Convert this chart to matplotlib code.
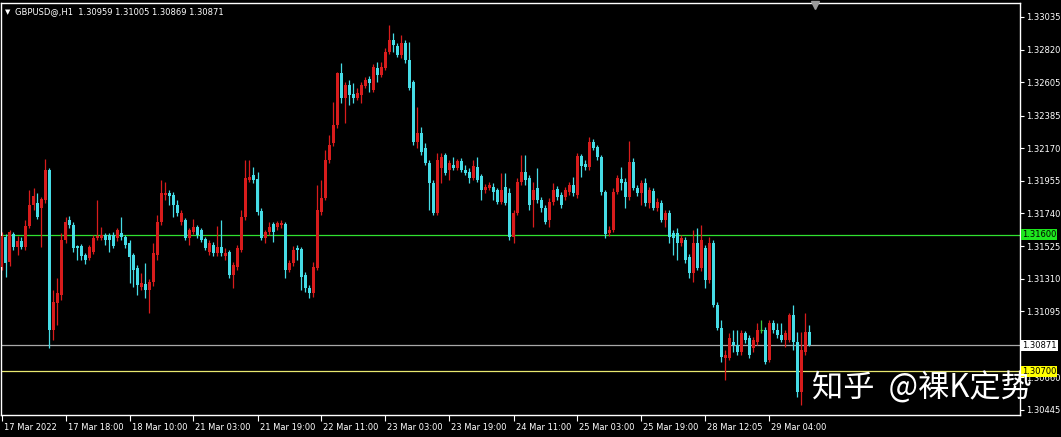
"""GBPUSD H1 candlestick chart, MT4 dark style."""

import matplotlib
matplotlib.use("Agg")
import matplotlib.pyplot as plt
import matplotlib.transforms as mtransforms
import numpy as np

# Hourly bars, 17 Mar 2022 -> 29 Mar 2022
OPENS = [
    1.31388, 1.31585, 1.31420, 1.31605, 1.31519, 1.31559, 1.31519, 1.31658, 1.31796, 1.31809,
    1.31776, 1.31829, 1.32027, 1.30972, 1.31150, 1.31203, 1.31565, 1.31697, 1.31664, 1.31526,
    1.31526, 1.31467, 1.31447, 1.31486, 1.31579, 1.31579, 1.31598, 1.31598, 1.31598, 1.31579,
    1.31612, 1.31585, 1.31546, 1.31467, 1.31381, 1.31256, 1.31275, 1.31236, 1.31289, 1.31467,
    1.31684, 1.31862, 1.31875, 1.31862, 1.31796, 1.31684, 1.31697, 1.31579, 1.31618, 1.31651,
    1.31631, 1.31572, 1.31486, 1.31532, 1.31480, 1.31519, 1.31460, 1.31486, 1.31335, 1.31388,
    1.31500, 1.31717, 1.31961, 1.31994, 1.31967, 1.31757, 1.31579, 1.31618, 1.31671, 1.31651,
    1.31664, 1.31671, 1.31368, 1.31414, 1.31513, 1.31506, 1.31335, 1.31249, 1.31216, 1.31381,
    1.31750, 1.31842, 1.32093, 1.32205, 1.32323, 1.32666, 1.32501, 1.32587, 1.32528, 1.32501,
    1.32521, 1.32580, 1.32626, 1.32554, 1.32699, 1.32653, 1.32699, 1.32804, 1.32883, 1.32844,
    1.32785, 1.32864, 1.32752, 1.32607, 1.32211, 1.32270, 1.32172, 1.32073, 1.31941, 1.31743,
    1.32040, 1.32126, 1.32027, 1.32060, 1.32040, 1.32086, 1.32027, 1.32014, 1.31974, 1.32046,
    1.31987, 1.31895, 1.31908, 1.31915, 1.31895, 1.31816, 1.31915, 1.31875, 1.31585, 1.31743,
    1.31948, 1.32014, 1.31974, 1.31829, 1.31908, 1.31829, 1.31776, 1.31697, 1.31816, 1.31902,
    1.31862, 1.31849, 1.31882, 1.31928, 1.31862, 1.32119, 1.32066, 1.32046, 1.32211, 1.32178,
    1.32112, 1.31882, 1.31612, 1.31631, 1.31882, 1.31967, 1.31948, 1.31849, 1.32079, 1.31908,
    1.31875, 1.31941, 1.31809, 1.31888, 1.31776, 1.31809, 1.31697, 1.31743, 1.31612, 1.31612,
    1.31546, 1.31565, 1.31453, 1.31348, 1.31546, 1.31381, 1.31513, 1.31302, 1.31546, 1.31137,
    1.30986, 1.30788, 1.30788, 1.30893, 1.30873, 1.30827, 1.30953, 1.30920, 1.30854, 1.30893,
    1.30972, 1.30972, 1.30775, 1.31018, 1.30972, 1.30939, 1.30906, 1.30906, 1.31071, 1.30893,
    1.30564, 1.30827, 1.30959,
]
HIGHS = [
    1.31618, 1.31605, 1.31631, 1.31618, 1.31592, 1.31585, 1.31697, 1.31895, 1.31908, 1.31875,
    1.31849, 1.32099, 1.32040, 1.31236, 1.31315, 1.31612, 1.31717, 1.31724, 1.31684, 1.31532,
    1.31539, 1.31480, 1.31532, 1.31598, 1.31829, 1.31651, 1.31612, 1.31612, 1.31618, 1.31645,
    1.31717, 1.31598, 1.31565, 1.31480, 1.31401, 1.31348, 1.31414, 1.31308, 1.31546, 1.31730,
    1.31961, 1.31948, 1.31895, 1.31882, 1.31829, 1.31763, 1.31710, 1.31645, 1.31704, 1.31664,
    1.31645, 1.31585, 1.31565, 1.31552, 1.31658, 1.31697, 1.31513, 1.31500, 1.31420, 1.31532,
    1.31763, 1.32093, 1.32093, 1.32046, 1.32014, 1.31776, 1.31631, 1.31684, 1.31684, 1.31691,
    1.31697, 1.31684, 1.31434, 1.31526, 1.31532, 1.31519, 1.31355, 1.31269, 1.31420, 1.31928,
    1.31961, 1.32158, 1.32257, 1.32475, 1.32672, 1.32732, 1.32607, 1.32620, 1.32600, 1.32567,
    1.32607, 1.32640, 1.32646, 1.32725, 1.32738, 1.32738, 1.32831, 1.32982, 1.32930, 1.32864,
    1.32916, 1.32883, 1.32870, 1.32620, 1.32442, 1.32310, 1.32205, 1.32093, 1.31961, 1.32139,
    1.32139, 1.32139, 1.32093, 1.32112, 1.32099, 1.32106, 1.32060, 1.32040, 1.32093, 1.32112,
    1.32000, 1.31934, 1.31948, 1.31941, 1.31908, 1.32007, 1.32007, 1.31908, 1.31763, 1.31974,
    1.32126, 1.32126, 1.31994, 1.31948, 1.32040, 1.31849, 1.31796, 1.31842, 1.31941, 1.31921,
    1.31882, 1.31915, 1.31948, 1.31981, 1.32139, 1.32132, 1.32093, 1.32244, 1.32231, 1.32191,
    1.32126, 1.31895, 1.31658, 1.31908, 1.31994, 1.32046, 1.31974, 1.32218, 1.32106, 1.31928,
    1.31961, 1.31974, 1.31915, 1.31908, 1.31842, 1.31829, 1.31763, 1.31763, 1.31631, 1.31645,
    1.31598, 1.31585, 1.31473, 1.31631, 1.31645, 1.31664, 1.31532, 1.31585, 1.31565, 1.31157,
    1.31038, 1.30841, 1.30953, 1.30972, 1.30972, 1.30972, 1.30966, 1.30939, 1.30926, 1.31018,
    1.31038, 1.30992, 1.31038, 1.31038, 1.31018, 1.31018, 1.30972, 1.31084, 1.31137, 1.30959,
    1.30959, 1.31084, 1.31005,
]
LOWS = [
    1.31368, 1.31322, 1.31394, 1.31500, 1.31467, 1.31506, 1.31500, 1.31645, 1.31763, 1.31704,
    1.31519, 1.31809, 1.30854, 1.30906, 1.31005, 1.31170, 1.31546, 1.31645, 1.31486, 1.31434,
    1.31434, 1.31407, 1.31434, 1.31473, 1.31565, 1.31565, 1.31532, 1.31486, 1.31513, 1.31559,
    1.31565, 1.31513, 1.31282, 1.31256, 1.31203, 1.31236, 1.31183, 1.31084, 1.31262, 1.31434,
    1.31664, 1.31829, 1.31796, 1.31717, 1.31724, 1.31664, 1.31565, 1.31532, 1.31605, 1.31579,
    1.31552, 1.31500, 1.31467, 1.31460, 1.31460, 1.31460, 1.31434, 1.31315, 1.31249, 1.31368,
    1.31486, 1.31697, 1.31948, 1.31941, 1.31730, 1.31565, 1.31546, 1.31598, 1.31552, 1.31631,
    1.31645, 1.31315, 1.31355, 1.31394, 1.31434, 1.31236, 1.31223, 1.31183, 1.31190, 1.31368,
    1.31730, 1.31829, 1.32073, 1.32185, 1.32303, 1.32468, 1.32336, 1.32455, 1.32468, 1.32488,
    1.32468, 1.32567, 1.32541, 1.32541, 1.32607, 1.32640, 1.32686, 1.32791, 1.32804, 1.32771,
    1.32765, 1.32732, 1.32554, 1.32191, 1.32172, 1.32126, 1.32060, 1.31763, 1.31730, 1.31730,
    1.31941, 1.31994, 1.31961, 1.32027, 1.32027, 1.32014, 1.31994, 1.31941, 1.31961, 1.31948,
    1.31829, 1.31875, 1.31895, 1.31829, 1.31803, 1.31803, 1.31796, 1.31565, 1.31546, 1.31730,
    1.31928, 1.31928, 1.31763, 1.31651, 1.31809, 1.31750, 1.31671, 1.31651, 1.31796, 1.31829,
    1.31776, 1.31829, 1.31862, 1.31855, 1.31842, 1.31981, 1.32027, 1.32027, 1.32158, 1.32093,
    1.31862, 1.31579, 1.31592, 1.31618, 1.31869, 1.31895, 1.31776, 1.31829, 1.31895, 1.31855,
    1.31796, 1.31789, 1.31776, 1.31763, 1.31757, 1.31684, 1.31651, 1.31546, 1.31467, 1.31434,
    1.31526, 1.31414, 1.31315, 1.31289, 1.31368, 1.31361, 1.31249, 1.31282, 1.31124, 1.30972,
    1.30761, 1.30643, 1.30775, 1.30827, 1.30808, 1.30808, 1.30887, 1.30788, 1.30827, 1.30873,
    1.30953, 1.30748, 1.30761, 1.30953, 1.30920, 1.30893, 1.30860, 1.30893, 1.30841, 1.30531,
    1.30478, 1.30808, 1.30869,
]
CLOSES = [
    1.31592, 1.31414, 1.31618, 1.31519, 1.31559, 1.31519, 1.31658, 1.31796, 1.31855, 1.31717,
    1.31836, 1.32027, 1.30972, 1.31157, 1.31216, 1.31565, 1.31684, 1.31664, 1.31513, 1.31513,
    1.31460, 1.31434, 1.31519, 1.31579, 1.31592, 1.31598, 1.31565, 1.31565, 1.31526, 1.31631,
    1.31585, 1.31532, 1.31453, 1.31368, 1.31269, 1.31282, 1.31236, 1.31289, 1.31480, 1.31684,
    1.31875, 1.31875, 1.31855, 1.31796, 1.31743, 1.31743, 1.31579, 1.31631, 1.31651, 1.31598,
    1.31565, 1.31513, 1.31546, 1.31480, 1.31519, 1.31480, 1.31480, 1.31335, 1.31401, 1.31513,
    1.31717, 1.31974, 1.31981, 1.31961, 1.31750, 1.31579, 1.31618, 1.31651, 1.31618, 1.31677,
    1.31677, 1.31368, 1.31414, 1.31500, 1.31500, 1.31322, 1.31249, 1.31216, 1.31388, 1.31763,
    1.31842, 1.32093, 1.32191, 1.32323, 1.32666, 1.32501, 1.32587, 1.32521, 1.32501, 1.32534,
    1.32587, 1.32620, 1.32600, 1.32705, 1.32653, 1.32705, 1.32804, 1.32883, 1.32850, 1.32785,
    1.32864, 1.32752, 1.32567, 1.32211, 1.32270, 1.32145, 1.32073, 1.31941, 1.31743, 1.32093,
    1.32112, 1.32007, 1.32073, 1.32040, 1.32086, 1.32027, 1.32007, 1.31974, 1.32053, 1.31961,
    1.31895, 1.31915, 1.31928, 1.31882, 1.31816, 1.31895, 1.31809, 1.31585, 1.31743, 1.31948,
    1.32014, 1.31961, 1.31796, 1.31895, 1.31829, 1.31776, 1.31684, 1.31816, 1.31895, 1.31849,
    1.31796, 1.31895, 1.31928, 1.31875, 1.32119, 1.32053, 1.32046, 1.32211, 1.32172, 1.32112,
    1.31882, 1.31605, 1.31631, 1.31882, 1.31974, 1.31941, 1.31849, 1.32079, 1.31908, 1.31875,
    1.31941, 1.31809, 1.31895, 1.31776, 1.31816, 1.31697, 1.31743, 1.31585, 1.31579, 1.31546,
    1.31579, 1.31434, 1.31348, 1.31546, 1.31381, 1.31565, 1.31302, 1.31546, 1.31137, 1.30986,
    1.30794, 1.30808, 1.30920, 1.30873, 1.30827, 1.30953, 1.30906, 1.30808, 1.30906, 1.30972,
    1.30972, 1.30761, 1.31018, 1.30972, 1.30939, 1.30906, 1.30953, 1.31071, 1.30893, 1.30564,
    1.30841, 1.30959, 1.30871,
]

TIME_TICKS = [0, 16, 32, 48, 64, 80, 96, 112, 128, 144, 160, 176, 192]
TIME_LABELS = ["17 Mar 2022", "17 Mar 18:00", "18 Mar 10:00", "21 Mar 03:00",
               "21 Mar 19:00", "22 Mar 11:00", "23 Mar 03:00", "23 Mar 19:00",
               "24 Mar 11:00", "25 Mar 03:00", "25 Mar 19:00", "28 Mar 12:05",
               "29 Mar 04:00"]
PRICE_TICKS = [1.33035, 1.32820, 1.32605, 1.32385, 1.32170, 1.31955, 1.31740,
               1.31525, 1.31310, 1.31095, 1.30660, 1.30445]

LEVEL_GREEN = 1.31600
LEVEL_BID = 1.30871
LEVEL_YELLOW = 1.30700
TITLE = "GBPUSD@,H1  1.30959 1.31005 1.30869 1.30871"
WATERMARK = "知乎  @裸K定势"

BULL = "#d81c1c"
BEAR = "#46dce6"
DOJI = "#3cc83c"
FONT = 6.0


def _main() -> None:
    o = np.array(OPENS)
    h = np.array(HIGHS)
    l = np.array(LOWS)
    c = np.array(CLOSES)
    x = np.arange(len(o))

    fig = plt.figure(figsize=(10.61, 4.37), dpi=100, facecolor="black")
    ax = fig.add_axes([1 / 1061, 22 / 437, 1019 / 1061, 412 / 437])
    ax.set_facecolor("black")

    colors = np.where(c > o, BULL, np.where(c < o, BEAR, DOJI))
    ax.axhline(LEVEL_GREEN, color="#30e030", lw=0.9, zorder=1)
    ax.axhline(LEVEL_BID, color="#a8a8a8", lw=0.9, zorder=1)
    ax.axhline(LEVEL_YELLOW, color="#e8e870", lw=0.9, zorder=1)

    ax.vlines(x, l, h, colors=colors, lw=0.9, zorder=2)
    ax.bar(x, np.abs(c - o), bottom=np.minimum(o, c), width=0.75,
           color=colors, linewidth=0, zorder=3)
    doji = c == o
    ax.hlines(o[doji], x[doji] - 0.4, x[doji] + 0.4, colors=DOJI, lw=0.9,
              zorder=3)

    ax.set_xlim(-0.125, 254.625)
    ax.set_ylim(1.30412, 1.33127)

    for s in ax.spines.values():
        s.set_color("white")
        s.set_linewidth(1)

    ax.set_xticks(TIME_TICKS)
    ax.set_xticklabels(TIME_LABELS, ha="left")
    ax.yaxis.tick_right()
    ax.set_yticks(PRICE_TICKS)
    ax.set_yticklabels([f"{p:.5f}" for p in PRICE_TICKS])
    ax.tick_params(axis="x", colors="white", length=4, width=0.8, pad=2,
                   labelsize=FONT)
    ax.tick_params(axis="y", colors="white", length=3, width=0.8, pad=1.5,
                   labelsize=FONT)
    offset = mtransforms.ScaledTranslation(2 / 100, 0, fig.dpi_scale_trans)
    for t in ax.get_xticklabels():
        t.set_transform(t.get_transform() + offset)

    # price labels on the right scale
    trans = mtransforms.blended_transform_factory(ax.transAxes, ax.transData)
    for price, fc in [(LEVEL_GREEN, "#1ee61e"), (LEVEL_BID, "white"),
                      (LEVEL_YELLOW, "#ffff00")]:
        ax.text(1.002, price, f"{price:.5f}", transform=trans, fontsize=FONT,
                color="black", va="center", ha="left", clip_on=False,
                zorder=10,
                bbox=dict(boxstyle="square,pad=0.12", fc=fc, ec="none"))

    fig.text(5 / 1061, 1 - 12 / 437, "▼", color="white", fontsize=5,
             va="center", ha="left")
    fig.text(15 / 1061, 1 - 12 / 437, TITLE, color="white", fontsize=FONT,
             va="center", ha="left")
    ax.plot([0.7988], [0.995], marker="v", color="#9a9a9a", markersize=6,
            transform=ax.transAxes, clip_on=False, zorder=5)

    fig.text(812 / 1061, 1 - 388 / 437, WATERMARK, color="white",
             fontsize=22.5, va="center", ha="left",
             family=["Noto Sans CJK SC", "DejaVu Sans"], zorder=20)

    fig.savefig("out.png", dpi=100, facecolor="black")


if __name__ == "__main__":
    _main()
